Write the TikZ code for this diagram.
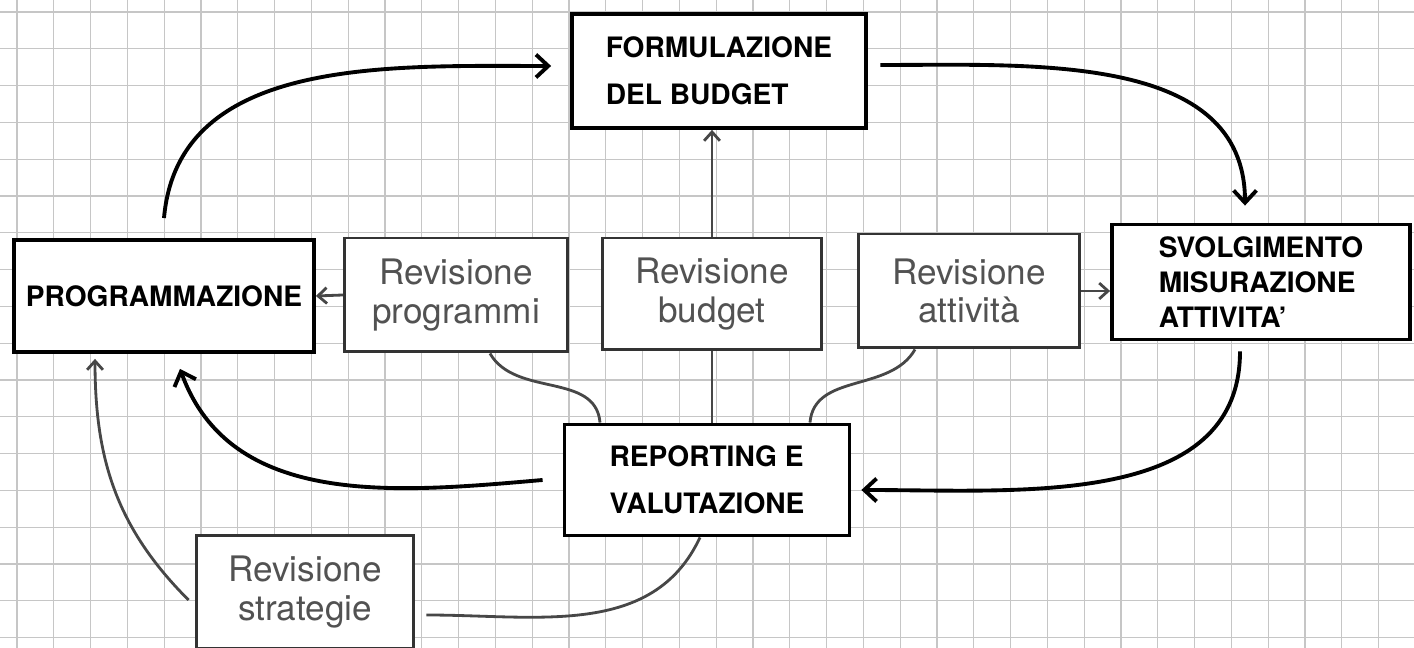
\documentclass[tikz,border=0pt]{standalone}
\usepackage{fontspec}
\setsansfont{TeX Gyre Heros}
\usetikzlibrary{arrows.meta}
\tikzstyle{mainbox} = [rectangle, draw=black, line width=2.2pt, fill=white, text centered, align=left, inner sep=3pt, font=\sffamily\bfseries\fontsize{16}{27}\selectfont]
\tikzstyle{revbox} = [rectangle, draw=black!80, line width=1.7pt, fill=white, text=black!68, text centered, align=center, font=\sffamily\fontsize{20}{22}\selectfont]
\tikzstyle{flow} = [line width=2.2pt, -{Straight Barb[length=7pt,width=13pt]}]
\tikzstyle{link} = [line width=1.6pt, draw=black!72]
\tikzstyle{linkarrow} = [link, -{Straight Barb[length=5pt,width=9pt]}]
\tikzstyle{paper} = [draw=gray!45, line width=0.6pt]

\begin{document}
\begin{tikzpicture}[x=0.02cm, y=0.02cm]
    \useasboundingbox (0,0) rectangle (1414,648);
    % squared paper
    \foreach \i in {0,...,37}
        \draw [paper] ({17+36.8*\i},0) -- ({17+36.8*\i},648);
    \foreach \j in {0,...,17}
        \draw [paper] (0,{636-36.8*\j}) -- (1414,{636-36.8*\j});

    \node (formul) [mainbox, minimum width=5.88cm, minimum height=2.28cm] at (719,577) {FORMULAZIONE\\DEL BUDGET};
    \node (prog) [mainbox, minimum width=6cm, minimum height=2.24cm] at (164,352) {PROGRAMMAZIONE};
    \node (revprog) [revbox, minimum width=4.46cm, minimum height=2.28cm] at (456,353) {Revisione\\programmi};
    \node (revbud) [revbox, minimum width=4.38cm, minimum height=2.24cm] at (712,354) {Revisione\\budget};
    \node (revatt) [revbox, minimum width=4.44cm, minimum height=2.28cm] at (969,357) {Revisione\\attività};
    \node (svolg) [mainbox, minimum width=5.96cm, minimum height=2.3cm, inner sep=1pt, font=\sffamily\bfseries\fontsize{16}{20}\selectfont] at (1261,366) {SVOLGIMENTO\\MISURAZIONE\\ATTIVITA'};
    \node (report) [mainbox, minimum width=5.7cm, minimum height=2.22cm] at (707,168) {REPORTING E\\VALUTAZIONE};
    \node (revstrat) [revbox, minimum width=4.36cm, minimum height=2.26cm] at (305,56) {Revisione\\strategie};

    % main cycle
    \draw [flow] ([yshift=0.4cm]prog.north) to[out=85,in=180] ([xshift=-0.38cm,yshift=0.1cm]formul.west);
    \draw [flow] ([xshift=0.25cm,yshift=0.12cm]formul.east) to[out=0,in=90] ([xshift=-0.32cm,yshift=0.34cm]svolg.north);
    \draw [flow] ([xshift=-0.42cm,yshift=-0.2cm]svolg.south) to[out=-90,in=0] ([xshift=0.2cm,yshift=-0.2cm]report.east);
    \draw [flow] ([xshift=-0.4cm]report.west) to[out=185,in=-70] ([xshift=0.32cm,yshift=-0.3cm]prog.south);

    % revisions
    \draw [link] (revbud.south |- report.north) -- (revbud.south);
    \draw [linkarrow] (revbud.north) -- (revbud.north |- formul.south);
    \draw [link] ([xshift=-2.14cm]report.north) to[out=95,in=-60] ([xshift=0.68cm]revprog.south);
    \draw [link] ([xshift=2.06cm]report.north) to[out=85,in=-120] ([xshift=-1.08cm]revatt.south);
    \draw [link] ([xshift=-0.14cm]report.south) to[out=-115,in=0] ([xshift=0.22cm,yshift=-0.46cm]revstrat.east);
    \draw [linkarrow] ([xshift=-0.12cm,yshift=-0.16cm]revstrat.west) to[out=135,in=-90] ([xshift=-1.38cm,yshift=-0.1cm]prog.south);
    \draw [linkarrow] (revprog.west) -- (prog.east);
    \draw [linkarrow] (revatt.east) -- (svolg.west |- revatt.east);
\end{tikzpicture}
\end{document}
